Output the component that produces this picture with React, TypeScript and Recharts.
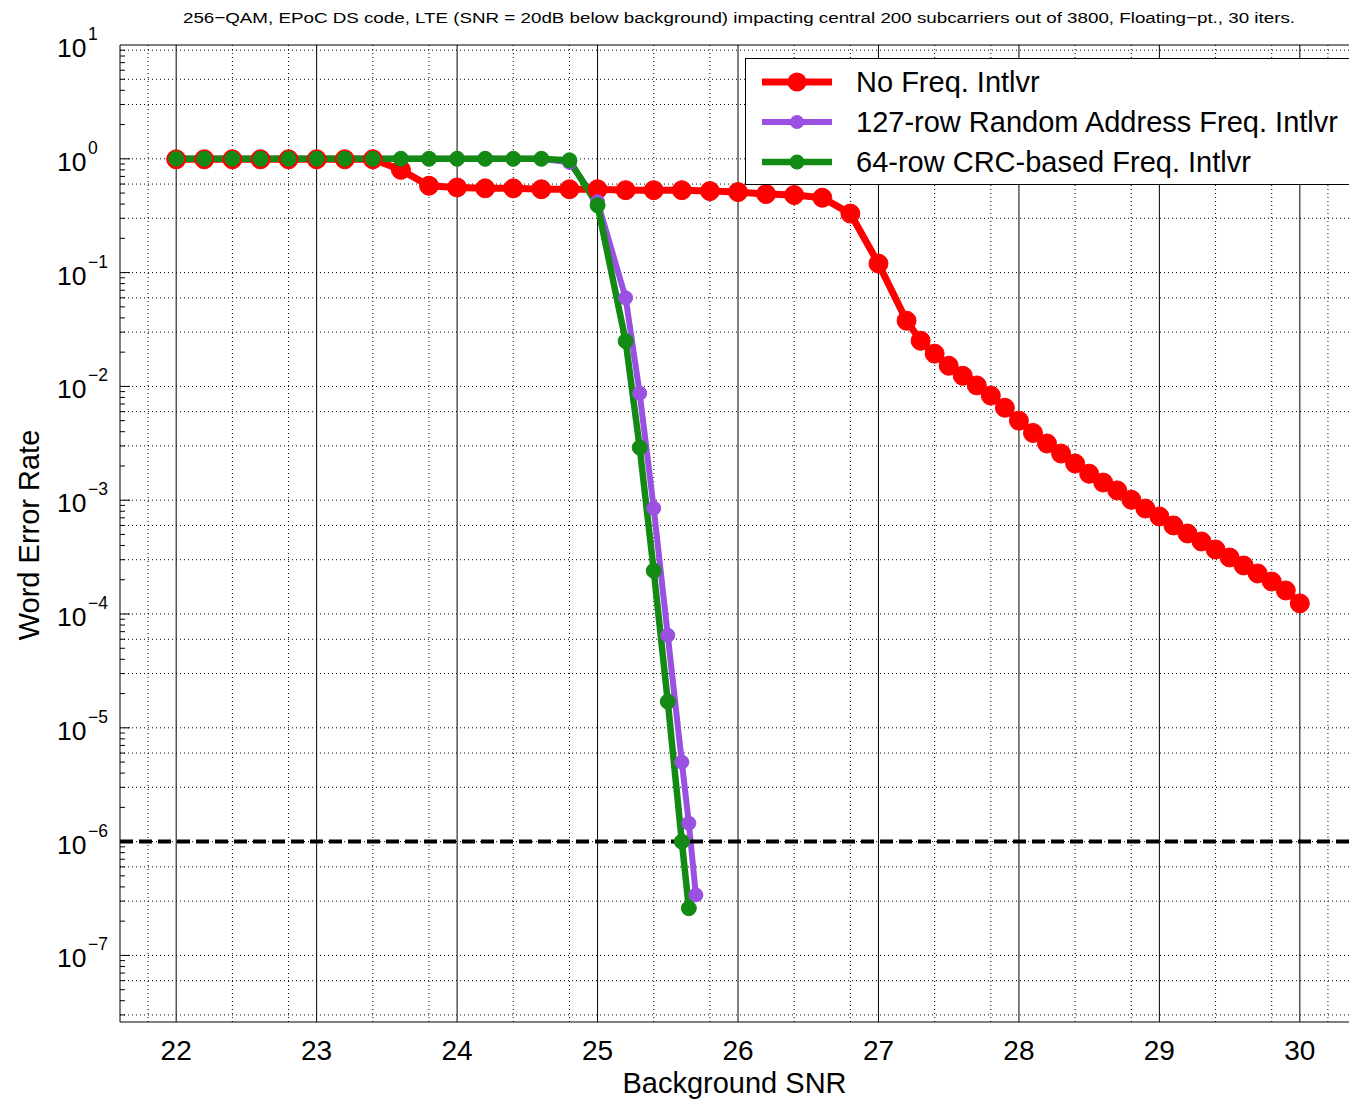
import { LineChart, Line, XAxis, YAxis, CartesianGrid, ReferenceLine } from "recharts";

const FONT = "'Liberation Sans', Arial, Helvetica, sans-serif";

// No Freq. Intlvr
const noIntlvrSnr = [
  22, 22.2, 22.4, 22.6, 22.8, 23, 23.2, 23.4, 23.6, 23.8, 24, 24.2, 24.4, 24.6, 24.8, 25, 25.2, 25.4, 25.6,
  25.8, 26, 26.2, 26.4, 26.6, 26.8, 27, 27.2, 27.3, 27.4, 27.5, 27.6, 27.7, 27.8, 27.9, 28, 28.1, 28.2, 28.3,
  28.4, 28.5, 28.6, 28.7, 28.8, 28.9, 29, 29.1, 29.2, 29.3, 29.4, 29.5, 29.6, 29.7, 29.8, 29.9, 30,
];
const noIntlvrWer = [
  0.99, 0.99, 0.99, 0.99, 0.99, 0.99, 0.99, 0.99, 0.8, 0.58, 0.56, 0.55, 0.55, 0.54, 0.54, 0.54, 0.53, 0.53, 0.53,
  0.52, 0.51, 0.49, 0.48, 0.455, 0.33, 0.12, 0.0378, 0.0252, 0.0194, 0.0152, 0.0124, 0.0102, 0.0083, 0.0065,
  0.005, 0.0039, 0.00315, 0.00257, 0.0021, 0.00171, 0.00143, 0.00122, 0.00101, 0.000845, 0.00072, 0.0006,
  0.00051, 0.000434, 0.000369, 0.000314, 0.000267, 0.000227, 0.000193, 0.000161, 0.000124,
];

// 127-row Random Address Freq. Intlvr
const randomSnr = [
  22, 22.2, 22.4, 22.6, 22.8, 23, 23.2, 23.4, 23.6, 23.8, 24, 24.2, 24.4, 24.6, 24.8, 25, 25.2, 25.3, 25.4, 25.5,
  25.6, 25.65, 25.7,
];
const randomWer = [
  1, 1, 1, 1, 1, 1, 1, 1, 1, 1, 1, 1, 1, 1, 0.93, 0.42, 0.06, 0.0087, 0.00085, 6.5e-5, 5e-6, 1.45e-6, 3.4e-7,
];

// 64-row CRC-based Freq. Intlvr
const crcSnr = [
  22, 22.2, 22.4, 22.6, 22.8, 23, 23.2, 23.4, 23.6, 23.8, 24, 24.2, 24.4, 24.6, 24.8, 25, 25.2, 25.3, 25.4, 25.5,
  25.6, 25.65,
];
const crcWer = [
  1, 1, 1, 1, 1, 1, 1, 1, 1, 1, 1, 1, 1, 1, 0.97, 0.39, 0.025, 0.0029, 0.00024, 1.7e-5, 1.0e-6, 2.6e-7,
];

const xTicks = [22, 23, 24, 25, 26, 27, 28, 29, 30];
const yTicks = [1e-7, 1e-6, 1e-5, 1e-4, 1e-3, 1e-2, 1e-1, 1, 10];
const targetWer = 1e-6;

const X_MIN = 21.6;
const X_MAX = 30.35;
const Y_MIN = 2.6e-8;
const Y_MAX = 10;
const PX_PER_X = 1229 / (X_MAX - X_MIN);

const toRows = (snr: number[], wer: number[]) => snr.map((s, i) => ({ snr: s, wer: wer[i] }));

const series = [
  { name: "No Freq. Intlvr", color: "#ff0000", width: 7, r: 9.5, data: toRows(noIntlvrSnr, noIntlvrWer) },
  { name: "127-row Random Address Freq. Intlvr", color: "#9a50e0", width: 6, r: 7, data: toRows(randomSnr, randomWer) },
  { name: "64-row CRC-based Freq. Intlvr", color: "#138a13", width: 6.5, r: 7.5, data: toRows(crcSnr, crcWer) },
];

// dotted minor grid (MATLAB style)
const minorX: number[] = [];
for (let k = 109; k <= 151; k++) {
  if (k % 5 !== 0) minorX.push(Math.round(k * 2) / 10);
}
const minorY: number[] = [];
const decadeY: number[] = [];
for (let e = -8; e <= 0; e++) {
  for (let m = 1; m <= 9; m++) {
    const v = m * Math.pow(10, e);
    if (v > Y_MIN && v < Y_MAX) {
      minorY.push(v);
      if (m === 1) decadeY.push(v);
    }
  }
}

const YTick = (props: any) => {
  const { y, payload } = props;
  const exp = Math.round(Math.log10(payload.value));
  const expText = exp < 0 ? "\u2212" + Math.abs(exp) : String(exp);
  return (
    <g>
      <text x={57} y={y + 12} fontSize={26.5} fill="#000" fontFamily={FONT}>
        10
      </text>
      <text x={88} y={y - 5} fontSize={17.5} fill="#000" fontFamily={FONT}>
        {expText}
      </text>
    </g>
  );
};

export default function App() {
  return (
    <div
      style={{
        position: "relative",
        width: 1349,
        height: 1102,
        background: "#fff",
        fontFamily: FONT,
        overflow: "hidden",
      }}
    >
      <style>{"html, body { margin: 0; padding: 0; overflow: hidden; }"}</style>
      <LineChart width={1349} height={1102} margin={{ top: 45, right: 0, bottom: 0, left: 0 }}>
        <CartesianGrid
          verticalValues={minorX}
          horizontalValues={minorY}
          stroke="#000"
          strokeDasharray="1 3"
        />
        <CartesianGrid verticalValues={xTicks} horizontal={false} stroke="#000" />
        <XAxis
          type="number"
          dataKey="snr"
          domain={[X_MIN, X_MAX]}
          allowDataOverflow
          ticks={xTicks}
          height={80}
          tickSize={0}
          tickMargin={18}
          tick={{ fontSize: 28, fill: "#000", fontFamily: FONT }}
          axisLine={{ stroke: "#000" }}
          label={{ value: "Background SNR", position: "insideBottom", offset: 9, fontSize: 29, fill: "#000", fontFamily: FONT }}
        />
        <YAxis
          type="number"
          scale="log"
          domain={[Y_MIN, Y_MAX]}
          allowDataOverflow
          ticks={yTicks}
          width={120}
          tickSize={0}
          tick={<YTick />}
          axisLine={{ stroke: "#000" }}
        />
        <ReferenceLine y={Y_MAX} stroke="#000" ifOverflow="extendDomain" />
        {decadeY.map((v) => (
          <ReferenceLine
            key={"mt" + v}
            segment={[{ x: X_MIN, y: v }, { x: X_MIN + 10 / PX_PER_X, y: v }]}
            stroke="#000"
          />
        ))}
        {minorY
          .filter((v) => !decadeY.includes(v))
          .map((v) => (
            <ReferenceLine
              key={"nt" + v}
              segment={[{ x: X_MIN, y: v }, { x: X_MIN + 5 / PX_PER_X, y: v }]}
              stroke="#000"
            />
          ))}
        {series.map((s) => (
          <Line
            key={s.name}
            data={s.data}
            dataKey="wer"
            name={s.name}
            stroke={s.color}
            strokeWidth={s.width}
            dot={{ r: s.r, fill: s.color, stroke: s.color, strokeWidth: 1 }}
            isAnimationActive={false}
          />
        ))}
        <ReferenceLine y={targetWer} stroke="#000" strokeWidth={4} strokeDasharray="13 6" />
      </LineChart>

      <svg width={1349} height={1102} style={{ position: "absolute", left: 0, top: 0, pointerEvents: "none" }}>
        <text
          x={739}
          y={23}
          textAnchor="middle"
          fontSize={15.5}
          fill="#000"
          fontFamily={FONT}
          textLength={1112}
          lengthAdjust="spacingAndGlyphs"
        >
          256−QAM, EPoC DS code, LTE (SNR = 20dB below background) impacting central 200 subcarriers out of 3800, Floating−pt., 30 iters.
        </text>
        <text
          transform="translate(39, 535) rotate(-90)"
          textAnchor="middle"
          fontSize={29}
          fill="#000"
          fontFamily={FONT}
        >
          Word Error Rate
        </text>
      </svg>

      <div
        style={{
          position: "absolute",
          left: 745,
          top: 58,
          width: 610,
          height: 127,
          border: "1px solid #000",
          background: "#fff",
          boxSizing: "border-box",
        }}
      >
        {series.map((s, i) => (
          <div
            key={s.name}
            style={{ position: "absolute", left: 0, top: 3 + i * 40, height: 40, display: "flex", alignItems: "center" }}
          >
            <svg width={100} height={40}>
              <line x1={16} x2={86} y1={20} y2={20} stroke={s.color} strokeWidth={s.width} />
              <circle cx={51} cy={20} r={s.r} fill={s.color} />
            </svg>
            <span style={{ fontSize: 29, marginLeft: 10, color: "#000", whiteSpace: "nowrap" }}>{s.name}</span>
          </div>
        ))}
      </div>
    </div>
  );
}
